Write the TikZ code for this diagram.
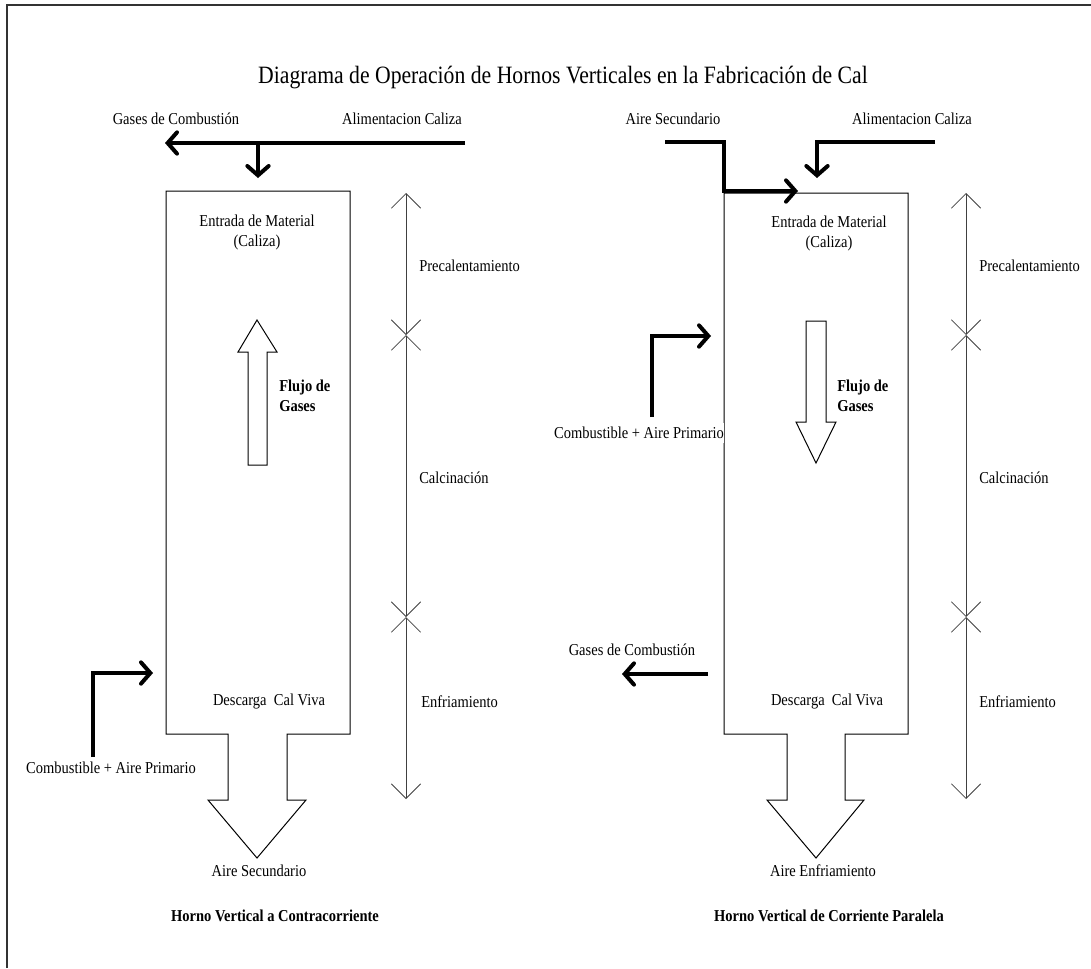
\documentclass[tikz,border=0pt]{standalone}
\usepackage{fontspec}
\setmainfont[FakeStretch=0.87]{Liberation Serif}
\usetikzlibrary{arrows.meta}
\begin{document}
\begin{tikzpicture}[x=0.75pt,y=-0.75pt,
  lbl/.style={inner sep=0pt, font=\fontsize{12.5}{15}\selectfont},
  lblb/.style={inner sep=0pt, font=\fontsize{12.5}{15}\selectfont\bfseries},
  wall/.style={line width=0.75pt, line join=miter},
  feed/.style={line width=3pt, line join=miter, -{Straight Barb[length=7pt,width=16pt,line cap=round]}},
  zone/.style={line width=0.6pt, draw=black!75, {Straight Barb[length=11pt,width=22pt]}-{Straight Barb[length=11pt,width=22pt]}},
  ]
\useasboundingbox (0,0) rectangle (1091,968);
% page frame
\draw[line width=1.5pt, black!80] (7,968) -- (7,5) -- (1091,5);

% title
\node[inner sep=0pt, font=\fontsize{18.7}{22}\selectfont] (title) at (563,78)
  {Diagrama de Operación de Hornos Verticales en la Fabricación de Cal};

% ---------------- counter-current kiln (left) ----------------
\node[lbl] (gasesL) at (176,119) {Gases de Combustión};
\node[lbl] (alimL)  at (402,119) {Alimentacion Caliza};

\draw[wall] (166,191) -- (350,191) -- (350,734) -- (287,734) -- (287,800) -- (306,800)
  -- (257,858) -- (208,800) -- (228,800) -- (228,734) -- (166,734) -- cycle;

\node[lbl, align=center] (entL) at (257,232) {Entrada de Material\\(Caliza)};
\draw[wall] (248,465) -- (248,352) -- (238,352) -- (257,320) -- (277,352) -- (267,352) -- (267,465) -- cycle;
\node[lblb, align=left, anchor=west] (flujoL) at (279,396) {Flujo de\\Gases};
\node[lbl] (descL) at (269,702) {Descarga\ \ Cal Viva};
\node[lbl] (aireL) at (259,871) {Aire Secundario};
\node[lblb] (hornoL) at (275,916) {Horno Vertical a Contracorriente};
\node[lbl] (combL) at (111,768) {Combustible + Aire Primario};

\coordinate (aLs) at (465,143);
\coordinate (aLe) at (165,143);
\coordinate (aLd) at (258,143);
\coordinate (aLi) at (258,178);
\draw[feed] (aLs) -- (aLe);
\draw[feed] (aLd) -- (aLi);

\coordinate (cLs) at (93,757);
\coordinate (cLk) at (93,673);
\coordinate (cLe) at (153,673);
\draw[feed] (cLs) -- (cLk) -- (cLe);

% zone scale
\coordinate (zL0) at (406,193);
\coordinate (zL1) at (406,335);
\coordinate (zL2) at (406,617);
\coordinate (zL3) at (406,799);
\draw[zone] (zL0) -- (zL1);
\draw[zone] (zL1) -- (zL2);
\draw[zone] (zL2) -- (zL3);
\node[lbl, anchor=west] (preL) at (419,266) {Precalentamiento};
\node[lbl, anchor=west] (calL) at (419,478) {Calcinación};
\node[lbl, anchor=west] (enfL) at (421,702) {Enfriamiento};

% ---------------- parallel-flow kiln (right) ----------------
\node[lbl] (aireR) at (673,119) {Aire Secundario};
\node[lbl] (alimR) at (912,119) {Alimentacion Caliza};

\draw[wall] (724,193) -- (908,193) -- (908,734) -- (845,734) -- (845,800) -- (864,800)
  -- (816,858) -- (767,800) -- (787,800) -- (787,734) -- (724,734) -- cycle;

\node[lbl, align=center] (entR) at (829,233) {Entrada de Material\\(Caliza)};
\draw[wall] (806,321) -- (826,321) -- (826,422) -- (836,422) -- (816,463) -- (796,422) -- (806,422) -- cycle;
\node[lblb, align=left, anchor=west] (flujoR) at (837,396) {Flujo de\\Gases};
\node[lbl] (descR) at (827,702) {Descarga\ \ Cal Viva};
\node[lbl] (enfrR) at (823,871) {Aire Enfriamiento};
\node[lblb] (hornoR) at (829,916) {Horno Vertical de Corriente Paralela};
\node[lbl, fill=white, inner ysep=3pt] (combR) at (639,433) {Combustible + Aire Primario};
\node[lbl] (gasesR) at (632,650) {Gases de Combustión};

\coordinate (sRs) at (665,142);
\coordinate (sRk1) at (724,142);
\coordinate (sRk2) at (724,191);
\coordinate (sRe) at (798,191);
\draw[feed] (sRs) -- (sRk1) -- (sRk2) -- (sRe);

\coordinate (fRs) at (935,142);
\coordinate (fRk) at (817,142);
\coordinate (fRe) at (817,178);
\draw[feed] (fRs) -- (fRk) -- (fRe);

\coordinate (cRs) at (652,417);
\coordinate (cRk) at (652,336);
\coordinate (cRe) at (711,336);
\draw[feed] (cRs) -- (cRk) -- (cRe);

\coordinate (gRs) at (708,674);
\coordinate (gRe) at (622,674);
\draw[feed] (gRs) -- (gRe);

\coordinate (zR0) at (966,193);
\coordinate (zR1) at (966,335);
\coordinate (zR2) at (966,617);
\coordinate (zR3) at (966,799);
\draw[zone] (zR0) -- (zR1);
\draw[zone] (zR1) -- (zR2);
\draw[zone] (zR2) -- (zR3);
\node[lbl, anchor=west] (preR) at (979,266) {Precalentamiento};
\node[lbl, anchor=west] (calR) at (979,478) {Calcinación};
\node[lbl, anchor=west] (enfR) at (979,702) {Enfriamiento};
\end{tikzpicture}
\end{document}
